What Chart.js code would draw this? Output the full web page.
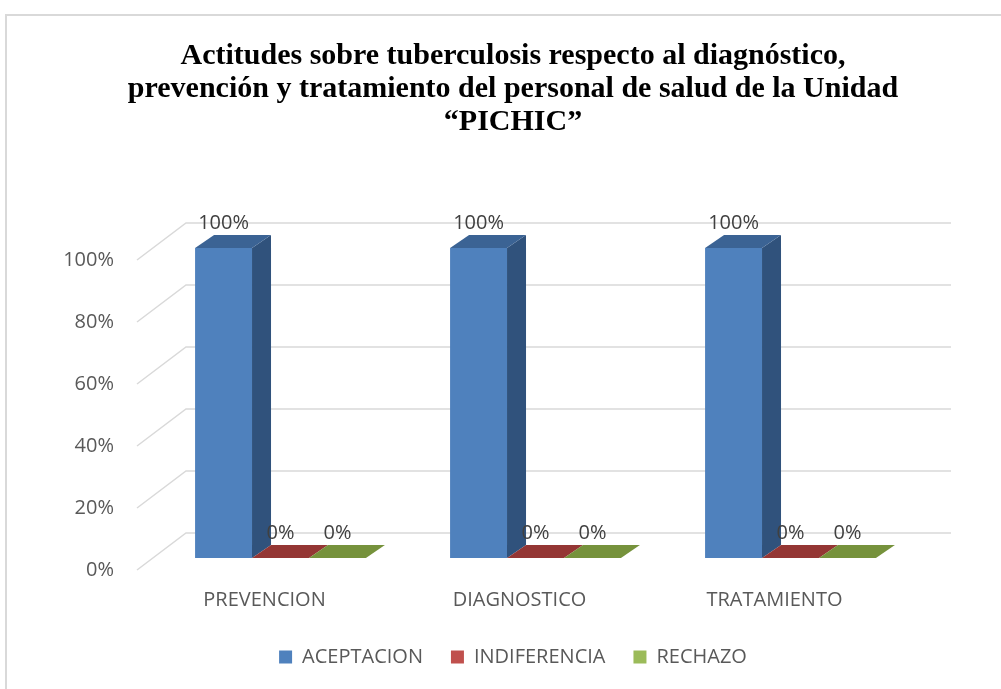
<!DOCTYPE html>
<html>
<head>
<meta charset="utf-8">
<script src="https://cdn.jsdelivr.net/npm/chart.js@4.4.1/dist/chart.umd.min.js"></script>
<style>
  html, body { margin: 0; padding: 0; background: #fff; }
  #wrap { position: relative; width: 1001px; height: 689px; }
  #frame { position: absolute; left: 5px; top: 14px; width: 1100px; height: 800px;
           border-top: 2px solid #D9D9D9; border-left: 2px solid #D9D9D9; pointer-events: none; }
</style>
</head>
<body>
<div id="wrap">
  <canvas id="chart" width="1001" height="689"></canvas>
  <div id="frame"></div>
</div>
<script>
// Data
const categories = ['PREVENCION', 'DIAGNOSTICO', 'TRATAMIENTO'];
const seriesNames = ['ACEPTACION', 'INDIFERENCIA', 'RECHAZO'];
const aceptacion = [100, 100, 100];
const indiferencia = [0, 0, 0];
const rechazo = [0, 0, 0];
const yTicks = [0, 20, 40, 60, 80, 100];

// Face colours: front, top, side
const faces = [
    { front: '#4F81BD', top: '#3B6394', side: '#30527C' },
    { front: '#C0504D', top: '#943634', side: '#7F2E2C' },
    { front: '#9BBB59', top: '#76923C', side: '#627A31' }
];

// back wall offset and bar depth offsets (pseudo 3D)
const wallDx = 49, wallDy = -37;
const barShiftX = 16, barShiftY = -12;
const barDepthX = 19, barDepthY = -13;

const pseudo3d = {
    id: 'pseudo3d',
    beforeDatasetsDraw(chart) {
        const ctx = chart.ctx;
        const area = chart.chartArea;
        const y = chart.scales.y;
        ctx.save();
        // back wall gridlines
        ctx.strokeStyle = '#D9D9D9';
        ctx.lineWidth = 1.5;
        yTicks.forEach(function (t) {
            const py = y.getPixelForValue(t);
            ctx.beginPath();
            ctx.moveTo(area.left, py);
            ctx.lineTo(area.left + wallDx, py + wallDy);
            ctx.lineTo(area.right + wallDx, py + wallDy);
            ctx.stroke();
        });
        // bars, per category then per series (left to right)
        for (let i = 0; i < categories.length; i++) {
            chart.data.datasets.forEach(function (ds, d) {
                const el = chart.getDatasetMeta(d).data[i];
                const half = el.width / 2;
                const x0 = el.x - half + barShiftX;
                const x1 = el.x + half + barShiftX;
                const top = el.y + barShiftY;
                const base = el.base + barShiftY;
                const f = faces[d];
                if (base - top > 0.5) {
                    ctx.fillStyle = f.front;
                    ctx.fillRect(x0, top, x1 - x0, base - top);
                    ctx.fillStyle = f.side;
                    ctx.beginPath();
                    ctx.moveTo(x1, top);
                    ctx.lineTo(x1 + barDepthX, top + barDepthY);
                    ctx.lineTo(x1 + barDepthX, base + barDepthY);
                    ctx.lineTo(x1, base);
                    ctx.closePath();
                    ctx.fill();
                }
                ctx.fillStyle = f.top;
                ctx.beginPath();
                ctx.moveTo(x0, top);
                ctx.lineTo(x1, top);
                ctx.lineTo(x1 + barDepthX, top + barDepthY);
                ctx.lineTo(x0 + barDepthX, top + barDepthY);
                ctx.closePath();
                ctx.fill();
            });
        }
        // value labels
        ctx.fillStyle = '#404040';
        ctx.font = '20px "Open Sans"';
        ctx.textAlign = 'center';
        ctx.textBaseline = 'middle';
        chart.data.datasets.forEach(function (ds, d) {
            chart.getDatasetMeta(d).data.forEach(function (el, i) {
                ctx.fillText(ds.data[i] + '%', el.x + barShiftX, el.y + barShiftY - 25);
            });
        });
        ctx.restore();
        return false;
    }
};

new Chart(document.getElementById('chart'), {
    type: 'bar',
    data: {
        labels: categories,
        datasets: [
            { label: seriesNames[0], data: aceptacion, backgroundColor: faces[0].front },
            { label: seriesNames[1], data: indiferencia, backgroundColor: faces[1].front },
            { label: seriesNames[2], data: rechazo, backgroundColor: faces[2].front }
        ]
    },
    options: {
        responsive: false,
        animation: false,
        categoryPercentage: 0.67,
        barPercentage: 1.0,
        layout: {
            padding: { left: 25, right: 0, top: 0, bottom: 12 }
        },
        plugins: {
            title: {
                display: true,
                text: [
                    'Actitudes sobre tuberculosis respecto al diagnóstico,',
                    'prevención y tratamiento del personal de salud de la Unidad',
                    '“PICHIC”'
                ],
                color: '#000',
                font: { family: '"Liberation Serif"', size: 30, weight: 'bold', lineHeight: 1.1 },
                padding: { top: 40, bottom: 121 }
            },
            legend: {
                position: 'bottom',
                labels: {
                    boxWidth: 13,
                    boxHeight: 13,
                    padding: 28,
                    color: '#595959',
                    font: { family: '"Open Sans"', size: 20 }
                }
            },
            tooltip: { enabled: false }
        },
        scales: {
            y: {
                min: 0,
                max: 100,
                afterFit: function (scale) { scale.width = 112; },
                afterBuildTicks: function (scale) {
                    scale.ticks = yTicks.map(function (v) { return { value: v }; });
                },
                grid: { display: false },
                border: { display: false },
                ticks: {
                    padding: 15,
                    color: '#595959',
                    font: { family: '"Open Sans"', size: 20 },
                    callback: function (v) { return v + '%'; }
                }
            },
            // empty right-hand spacer so the plot ends where the back wall begins
            yr: {
                position: 'right',
                afterFit: function (scale) { scale.width = 99; },
                grid: { display: false },
                border: { display: false },
                ticks: { display: false }
            },
            x: {
                afterFit: function (scale) { scale.height = 49; },
                grid: { display: false },
                border: { display: false },
                ticks: {
                    padding: 10,
                    color: '#595959',
                    font: { family: '"Open Sans"', size: 20 }
                }
            }
        }
    },
    plugins: [pseudo3d]
});
</script>
</body>
</html>
